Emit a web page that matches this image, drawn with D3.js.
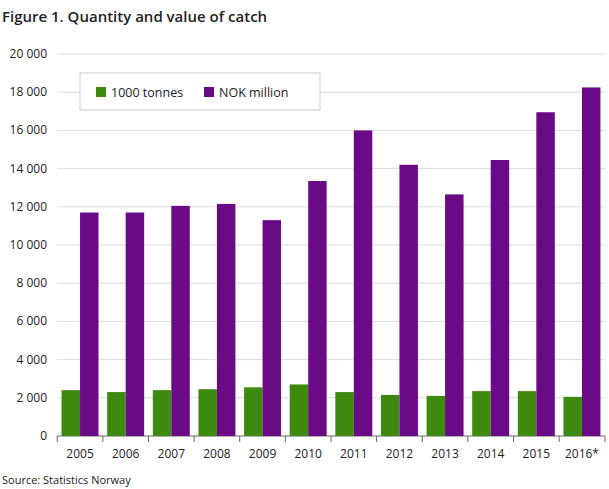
<!DOCTYPE html>
<html><head><meta charset="utf-8">
<script src="https://cdn.jsdelivr.net/npm/d3@7"></script>
<style>body{margin:0;background:#fff;font-family:"Open Sans",sans-serif}</style>
</head><body><div id="chart"></div>
<script>
// ---- data
var years = ["2005","2006","2007","2008","2009","2010","2011","2012","2013","2014","2015","2016*"];
var tonnes = [2400,2300,2400,2450,2550,2700,2300,2150,2100,2350,2350,2050];
var nokMillion = [11700,11700,12050,12150,11300,13350,16000,14200,12650,14450,16950,18250];
var seriesNames = ["1000 tonnes","NOK million"];
var colors = ["#3d8a0e","#6b0a87"];
var yTicks = d3.range(0,20001,2000);

var margin = {top: 54, right: 4, bottom: 53, left: 57};
var W = 609, H = 489;
var width = W - margin.left - margin.right, height = H - margin.top - margin.bottom;

var svg = d3.select("#chart").append("svg").attr("width",W).attr("height",H);
svg.append("text").attr("x",2).attr("y",22).attr("font-size",15).attr("font-weight",600)
  .attr("fill","#222").text("Figure 1. Quantity and value of catch");
svg.append("text").attr("x",2).attr("y",484).attr("font-size",11).attr("fill","#222")
  .text("Source: Statistics Norway");

var g = svg.append("g").attr("transform","translate("+margin.left+","+margin.top+")");

var x = d3.scaleBand().domain(years).range([0,width]).paddingInner(0.19).paddingOuter(0.1);
var y = d3.scaleLinear().domain([0,20000]).range([height,0]);
var fmt = function(v){ return d3.format(",")(v).replace(/,/g,"\u2009"); };

// gridlines
g.selectAll(".grid").data(yTicks).join("line")
  .attr("x1",0).attr("x2",width).attr("y1",d=>y(d)).attr("y2",d=>y(d))
  .attr("stroke",d=>d===0?"#666":"#ddd");
g.selectAll(".ylab").data(yTicks).join("text")
  .attr("x",-10).attr("y",d=>y(d)+4).attr("text-anchor","end")
  .attr("font-size",12).attr("fill","#222").text(d=>fmt(d).replace("\u2009"," "));

var bw = x.bandwidth()/2;
[tonnes, nokMillion].forEach(function(vals,i){
  g.selectAll(".s"+i).data(vals).join("rect")
    .attr("x",(d,j)=>x(years[j])+i*bw).attr("width",bw)
    .attr("y",d=>y(d)).attr("height",d=>height-y(d)).attr("fill",colors[i]);
});

// x axis
g.selectAll(".tick").data(years).join("line")
  .attr("x1",d=>x(d)-x.step()*0.095).attr("x2",d=>x(d)-x.step()*0.095)
  .attr("y1",height).attr("y2",height+6).attr("stroke","#666");
g.append("line").attr("x1",width).attr("x2",width).attr("y1",height).attr("y2",height+6).attr("stroke","#666");
g.selectAll(".xlab").data(years).join("text")
  .attr("x",d=>x(d)+x.bandwidth()/2).attr("y",height+22).attr("text-anchor","middle")
  .attr("font-size",12).attr("fill","#222").text(d=>d);

// legend
var lg = svg.append("g").attr("transform","translate(80,73)");
lg.append("rect").attr("width",240).attr("height",37).attr("fill","#fff").attr("stroke","#ccc");
var lx = [16,124];
seriesNames.forEach(function(n,i){
  lg.append("rect").attr("x",lx[i]).attr("y",14).attr("width",10).attr("height",10).attr("fill",colors[i]);
  lg.append("text").attr("x",lx[i]+15).attr("y",23.5).attr("font-size",12.5).attr("fill","#222").text(n);
});
</script></body></html>
